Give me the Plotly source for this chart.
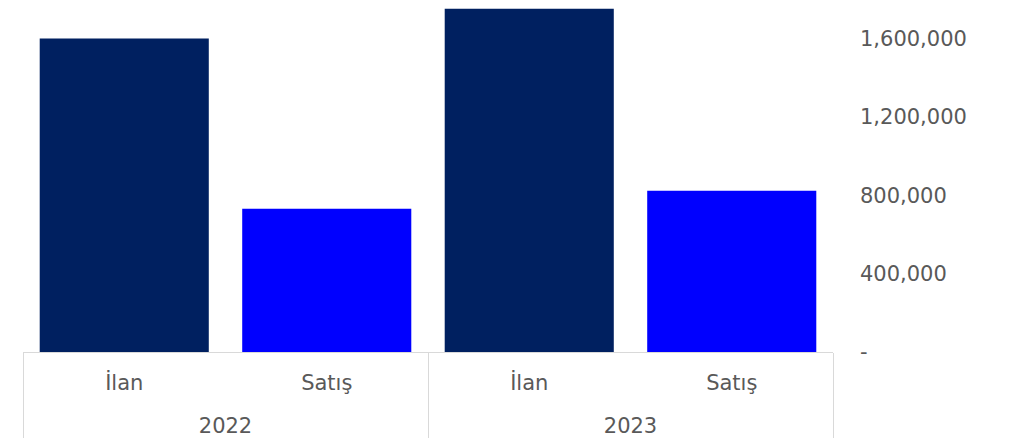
import plotly.graph_objects as go

years = ["2022", "2022", "2023", "2023"]
categories = ["İlan", "Satış", "İlan", "Satış"]
values = [1600000, 731000, 1752000, 823000]
bar_colors = ["#002060", "#0000FF", "#002060", "#0000FF"]
tick_values = [0, 400000, 800000, 1200000, 1600000]
tick_labels = ["-", "400,000", "800,000", "1,200,000", "1,600,000"]

# the page body has an 8px margin, so the figure is sized to fit the window
year_labels = ["<br>" + y for y in years]

fig = go.Figure(go.Bar(
    x=[year_labels, categories],
    y=values,
    marker=dict(color=bar_colors, line=dict(width=0)),
))

fig.update_layout(
    width=1007, height=430,
    margin=dict(l=15, r=182, t=0, b=86, autoexpand=False),
    paper_bgcolor="white", plot_bgcolor="white",
    font=dict(family="Verdana, DejaVu Sans", size=21, color="#595959"),
    bargap=0.165,
    showlegend=False,
)
fig.update_xaxes(
    type="multicategory", automargin=False,
    showline=True, linecolor="#d9d9d9", linewidth=1,
    showdividers=True, dividercolor="#d9d9d9", dividerwidth=1,
    ticks="", showgrid=False,
    ticklabelstandoff=12,
    tickfont=dict(size=21, color="#595959"),
)
fig.update_yaxes(
    side="right", automargin=False,
    range=[0, 1756000],
    tickvals=tick_values, ticktext=tick_labels,
    showgrid=False, zeroline=False, showline=False, ticks="",
    ticklabelstandoff=26,
    tickfont=dict(size=21, color="#595959"),
)

fig.write_html("out.html")
